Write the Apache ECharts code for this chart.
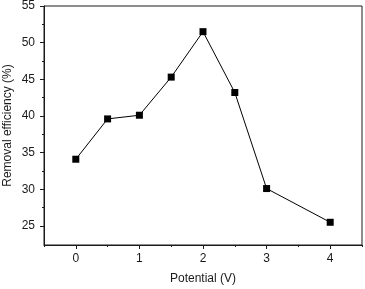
<!DOCTYPE html>
<html><head><meta charset="utf-8">
<script src="https://cdn.jsdelivr.net/npm/echarts@6/dist/echarts.min.js"></script>
<style>html,body{margin:0;padding:0;background:#fff}#c{width:365px;height:289px}</style>
</head><body><div id="c"></div>
<script>
const potential = [0, 0.5, 1, 1.5, 2, 2.5, 3, 4];
const removal = [34.1, 39.6, 40.1, 45.3, 51.5, 43.2, 30.1, 25.5];
const xMajor = [0, 1, 2, 3, 4];
const xMinor = [-0.5, 0.5, 1.5, 2.5, 3.5, 4.5];
const yMajor = [25, 30, 35, 40, 45, 50, 55];
const yMinor = [27.5, 32.5, 37.5, 42.5, 47.5, 52.5];

const font = 'Liberation Sans, Arial, sans-serif';
const chart = echarts.init(document.getElementById('c'));
const lineStyle = {color: '#1a1a1a', width: 1};
chart.setOption({
  animation: false,
  grid: {left: 44, right: 3, top: 6, bottom: 44, show: true, borderColor: '#1a1a1a', borderWidth: 1, containLabel: false, outerBoundsMode: 'none'},
  xAxis: [{
    type: 'value', min: -0.5, max: 4.5,
    name: 'Potential (V)', nameLocation: 'middle', nameGap: 28, nameMoveOverlap: false,
    nameTextStyle: {fontFamily: font, fontSize: 12, color: '#1a1a1a'},
    axisLine: {show: true, onZero: false, lineStyle},
    axisTick: {show: true, customValues: xMajor, length: 4, inside: false, lineStyle},
    axisLabel: {customValues: xMajor, margin: 8, fontFamily: font, fontSize: 12, color: '#1a1a1a'},
    splitLine: {show: false}
  }, {
    type: 'value', min: -0.5, max: 4.5, position: 'bottom',
    axisLine: {show: false, onZero: false},
    axisTick: {show: true, customValues: xMinor, length: 2, lineStyle},
    axisLabel: {show: false}, splitLine: {show: false}
  }],
  yAxis: [{
    type: 'value', min: 22.4, max: 55,
    name: 'Removal efficiency (%)', nameLocation: 'middle', nameGap: 30, nameMoveOverlap: false,
    nameTextStyle: {fontFamily: font, fontSize: 12, color: '#1a1a1a'},
    axisLine: {show: true, onZero: false, lineStyle},
    axisTick: {show: true, customValues: yMajor, length: 4, lineStyle},
    axisLabel: {customValues: yMajor, margin: 9, fontFamily: font, fontSize: 12, color: '#1a1a1a'},
    splitLine: {show: false}
  }, {
    type: 'value', min: 22.4, max: 55, position: 'left',
    axisLine: {show: false, onZero: false},
    axisTick: {show: true, customValues: yMinor, length: 2, lineStyle},
    axisLabel: {show: false}, splitLine: {show: false}
  }],
  series: [{
    type: 'line',
    data: potential.map((p, i) => [p, removal[i]]),
    symbol: 'rect', symbolSize: 7,
    itemStyle: {color: '#000'},
    lineStyle: {color: '#000', width: 1}
  }]
});
</script></body></html>
